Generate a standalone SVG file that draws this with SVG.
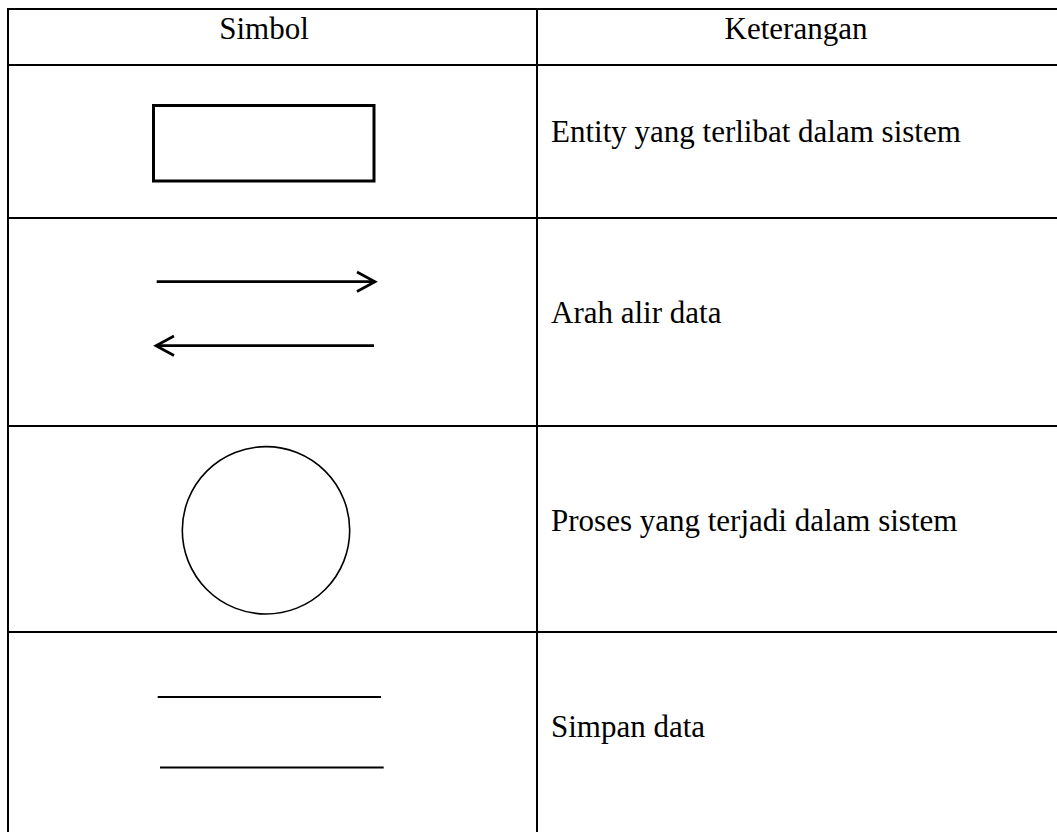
<svg xmlns="http://www.w3.org/2000/svg" width="1057" height="832" viewBox="0 0 1057 832">
<style>
.grid{stroke:#000;stroke-width:2;fill:none}
.sym{stroke:#000;fill:none}
text{font-family:"Liberation Serif","Times New Roman",serif;font-size:31px;fill:#000}
</style>
<rect width="1057" height="832" fill="#fff"/>
<g id="table">
<line class="grid" x1="7" y1="9" x2="1057" y2="9"/>
<line class="grid" x1="7" y1="65" x2="1057" y2="65"/>
<line class="grid" x1="7" y1="218" x2="1057" y2="218"/>
<line class="grid" x1="7" y1="426" x2="1057" y2="426"/>
<line class="grid" x1="7" y1="632" x2="1057" y2="632"/>
<line class="grid" x1="8" y1="8" x2="8" y2="832"/>
<line class="grid" x1="537" y1="8" x2="537" y2="832"/>
</g>
<g id="header">
<text x="264" y="39.3" text-anchor="middle">Simbol</text>
<text x="796" y="39.3" text-anchor="middle">Keterangan</text>
</g>
<g id="row-entity">
<rect class="sym" x="153.5" y="105.5" width="220.5" height="75.5" stroke-width="3"/>
<text x="551" y="141.5">Entity yang terlibat dalam sistem</text>
</g>
<g id="row-flow">
<g class="connectors">
<line class="sym" x1="156.7" y1="281.7" x2="375" y2="281.7" stroke-width="2.7"/>
<polyline class="sym" points="357,272 375,281.7 357,291.5" stroke-width="2.7"/>
<line class="sym" x1="156" y1="345.7" x2="374" y2="345.7" stroke-width="2.7"/>
<polyline class="sym" points="174,336 156,345.7 174,355.5" stroke-width="2.7"/>
</g>
<text x="551" y="323.3">Arah alir data</text>
</g>
<g id="row-process">
<circle class="sym" cx="266" cy="530.3" r="83.7" stroke-width="1.6"/>
<text x="551" y="530.7">Proses yang terjadi dalam sistem</text>
</g>
<g id="row-store">
<line class="sym" x1="157.7" y1="697" x2="381" y2="697" stroke-width="2"/>
<line class="sym" x1="160" y1="767.5" x2="383.7" y2="767.5" stroke-width="2"/>
<text x="551" y="736.7">Simpan data</text>
</g>
</svg>
